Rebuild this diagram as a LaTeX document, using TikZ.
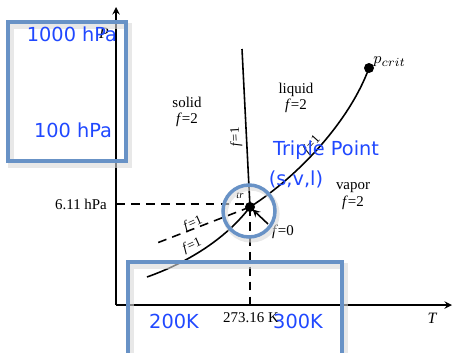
\documentclass[tikz,border=0pt]{standalone}
\usepackage{fontspec}
\setmainfont{Liberation Serif}
\newfontfamily\notefont{DejaVu Sans}
\usepackage{tikz}
\usetikzlibrary{arrows, arrows.meta, positioning}
\definecolor{boxblue}{RGB}{104,146,198}
\definecolor{noteblue}{RGB}{32,72,255}
\newcommand{\fval}[1]{\textit{f}=#1}

\begin{document}
\begin{tikzpicture}[x=0.02cm, y=-0.02cm, >=stealth]
    % Define styles for the nodes
    \tikzstyle{phase_lbl} = [
        align=center, font=\fontsize{8.5}{9.5}\selectfont, inner sep=1pt
    ]
    \tikzstyle{f_lbl} = [
        font=\fontsize{7.5}{8}\selectfont, inner sep=0.5pt
    ]
    \tikzstyle{note_lbl} = [
        text=noteblue, font=\notefont\fontsize{11}{12}\selectfont, inner sep=0
    ]
    \tikzstyle{blue_box} = [draw=boxblue, line width=2pt]
    \tikzstyle{box_shadow} = [draw=black!15, line width=3pt, opacity=0.6]
    \tikzstyle{curve} = [line width=0.9pt]

    \useasboundingbox (0,0) rectangle (453,352);

    % Axes
    \coordinate (origin) at (116,305);
    \coordinate (p_top) at (116,7);
    \coordinate (t_end) at (452,305);
    \draw[curve, ->] (origin) -- (p_top);
    \draw[curve, ->] (origin) -- (t_end);
    \node[font=\fontsize{9}{10}\selectfont\itshape] (p_lbl) at (104,33) {P};
    \node[font=\fontsize{9}{10}\selectfont\itshape] (t_lbl) at (432,318) {T};

    % Triple point and critical point
    \coordinate (tp) at (250,207);
    \coordinate (crit) at (369,68);
    \coordinate (melt_top) at (242,49);
    \coordinate (subl_end) at (147,277);
    \coordinate (meta_end) at (157,243);

    % Phase boundaries
    \draw[curve] (tp) -- (melt_top);
    \draw[curve] (tp) .. controls (300,175) and (350,120) .. (crit);
    \draw[curve] (subl_end) .. controls (192,261) and (228,236) .. (tp);
    \draw[curve, dashed, dash pattern=on 5pt off 3.5pt] (tp) -- (meta_end);

    % Reference lines at the triple point
    \node[phase_lbl, anchor=east] (p_tr_val) at (109,204) {6.11 hPa};
    \node[phase_lbl] (t_tr_val) at (251,318) {273.16 K};
    \draw[curve, dashed, dash pattern=on 5pt off 3.5pt] (origin |- p_tr_val) -- (tp |- p_tr_val) -- (tp);
    \draw[curve, dashed, dash pattern=on 5pt off 3.5pt] (tp) -- (origin -| tp);

    \fill (tp) circle[radius=0.1cm];
    \fill (crit) circle[radius=0.1cm];

    % Phase labels
    \node[phase_lbl] (solid) at (187,112) {solid\\\fval{2}};
    \node[phase_lbl] (liquid) at (296,98) {liquid\\\fval{2}};
    \node[phase_lbl] (vapor) at (353,196) {vapor\\\fval{2}};
    \node[font=\fontsize{9.5}{10}\selectfont, anchor=west, inner sep=0] (crit_lbl) at (373,62) {$p_{crit}$};
    \node[font=\fontsize{6}{6}\selectfont\itshape, inner sep=0] (tr_lbl) at (240,196) {tr};

    % Degrees of freedom on the lines
    \node[f_lbl, rotate=93] (f_melt) at (236,137) {\fval{1}};
    \node[f_lbl, rotate=48] (f_vap) at (312,145) {\fval{1}};
    \node[f_lbl, rotate=24] (f_meta) at (193,224) {\fval{1}};
    \node[f_lbl, rotate=24] (f_subl) at (192,246) {\fval{1}};
    \node[phase_lbl] (f_tp) at (283,232) {\fval{0}};
    \coordinate (f_tp_tail) at (268,224);
    \draw[curve, ->, shorten >=2pt] (f_tp_tail) -- (tp);

    % Blue notes
    \draw[box_shadow] (11,26) rectangle (129,165);
    \draw[blue_box] (8,22) rectangle (126,161);
    \node[note_lbl] (hpa_top) at (72,34) {1000 hPa};
    \node[note_lbl] (hpa_low) at (73,130) {100 hPa};

    \draw[box_shadow] (131,266) rectangle (345,370);
    \draw[blue_box] (128,262) rectangle (342,370);
    \node[note_lbl] (t_200) at (174,321) {200K};
    \node[note_lbl] (t_300) at (298,321) {300K};

    \coordinate (circ_c) at (249,211);
    \draw[box_shadow] ([shift={(2,3)}]circ_c) circle[radius=0.52cm];
    \draw[blue_box] (circ_c) circle[radius=0.52cm];
    \node[note_lbl] (tp_note) at (326,150) {Triple Point};
    \node[note_lbl] (svl_note) at (296,179) {(s,v,l)};
\end{tikzpicture}
\end{document}
